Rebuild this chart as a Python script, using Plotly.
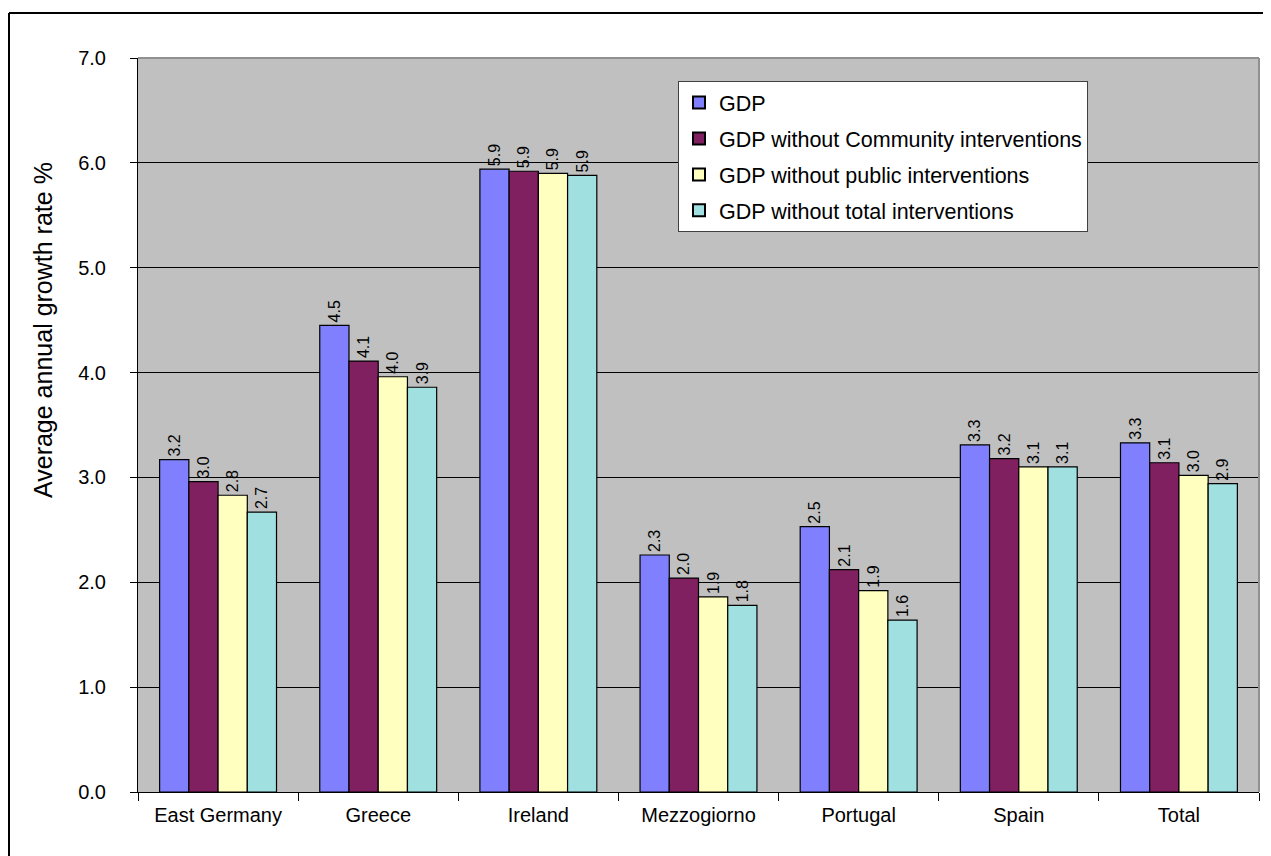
import plotly.graph_objects as go

categories = ["East Germany", "Greece", "Ireland", "Mezzogiorno", "Portugal", "Spain", "Total"]
series_names = [
    "GDP",
    "GDP without Community interventions",
    "GDP without public interventions",
    "GDP without total interventions",
]
gdp = [3.17, 4.45, 5.94, 2.26, 2.53, 3.31, 3.33]
gdp_no_community = [2.96, 4.11, 5.92, 2.04, 2.12, 3.18, 3.14]
gdp_no_public = [2.83, 3.96, 5.90, 1.86, 1.92, 3.10, 3.02]
gdp_no_total = [2.67, 3.86, 5.88, 1.78, 1.64, 3.10, 2.94]
colors = ["#8080FF", "#802060", "#FFFFC0", "#A0E0E0"]
y_ticks = [0, 1, 2, 3, 4, 5, 6, 7]
y_tick_labels = ["0.0", "1.0", "2.0", "3.0", "4.0", "5.0", "6.0", "7.0"]
y_title = "Average annual growth rate %"

FONT = "Liberation Sans, Arial, sans-serif"
OFF = 8  # page body margin offset
W, H = 1271 - OFF, 856 - OFF
L, T = 138 - OFF, 58 - OFF
R = W - (1259 - OFF)
B = H - (792 - OFF)
PW, PH = W - L - R, H - T - B


def px_x(p):
    """screenshot x pixel -> paper coordinate"""
    return (p - OFF - L) / PW


def px_y(p):
    """screenshot y pixel -> paper coordinate"""
    return (H - B - (p - OFF)) / PH


fig = go.Figure()
for i, (name, vals) in enumerate(zip(series_names, [gdp, gdp_no_community, gdp_no_public, gdp_no_total])):
    fig.add_trace(go.Bar(
        x=categories, y=vals, name=name,
        marker=dict(color=colors[i], line=dict(color="black", width=1.2)),
        texttemplate="%{y:.1f}", textposition="outside", textangle=-90,
        textfont=dict(family=FONT, size=16, color="black"),
        cliponaxis=False, legendgroup=str(i),
    ))

fig.update_layout(
    width=W, height=H,
    margin=dict(l=L, r=R, t=T, b=B),
    paper_bgcolor="white", plot_bgcolor="#C0C0C0",
    barmode="group", bargap=0.27, bargroupgap=0,
    font=dict(family=FONT, size=20, color="black"),
    showlegend=True,
    legend=dict(
        x=px_x(678), y=px_y(81), xanchor="left", yanchor="top",
        bgcolor="white", bordercolor="#404040", borderwidth=1,
        font=dict(family=FONT, size=21.5, color="black"),
        tracegroupgap=5, itemsizing="constant",
        entrywidth=380, entrywidthmode="pixels",
    ),
)
fig.update_xaxes(
    showgrid=False, showline=True, linecolor="black", linewidth=1,
    ticks="outside", tickson="boundaries", ticklen=8, tickcolor="black",
    tickfont=dict(family=FONT, size=20), ticklabelstandoff=5,
)
fig.update_yaxes(
    range=[0, 7], tickvals=y_ticks, ticktext=y_tick_labels,
    showgrid=True, gridcolor="black", gridwidth=1,
    showline=True, linecolor="black", linewidth=1,
    ticks="outside", ticklen=7, tickcolor="black",
    tickfont=dict(family=FONT, size=20), ticklabelstandoff=20,
    zeroline=False,
)
fig.add_annotation(
    text=y_title, xref="paper", yref="paper", x=px_x(43), y=px_y(330),
    xanchor="center", yanchor="middle", textangle=-90, showarrow=False,
    font=dict(family=FONT, size=25, color="black"),
)
# plot-area frame (grey top/right edges)
fig.add_shape(type="line", xref="paper", yref="paper", x0=0, x1=1, y0=1, y1=1,
              line=dict(color="#909090", width=2), layer="above")
fig.add_shape(type="line", xref="paper", yref="paper", x0=1, x1=1, y0=0, y1=1,
              line=dict(color="#909090", width=2), layer="above")
# outer chart border (left and top visible)
fig.add_shape(type="line", xref="paper", yref="paper", x0=px_x(9), x1=px_x(1280), y0=px_y(13), y1=px_y(13),
              line=dict(color="black", width=2))
fig.add_shape(type="line", xref="paper", yref="paper", x0=px_x(9), x1=px_x(9), y0=px_y(13), y1=px_y(870),
              line=dict(color="black", width=2))

fig.write_html("out.html")
